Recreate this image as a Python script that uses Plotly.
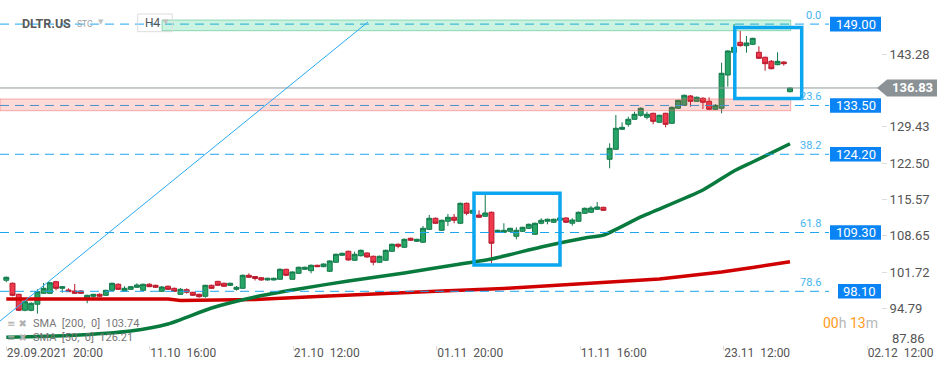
import plotly.graph_objects as go

# ---------------- data ----------------
tick_labels = ["29.09.2021  20:00", "11.10  16:00", "21.10  12:00", "01.11  20:00",
               "11.11  16:00", "23.11  12:00", "02.12  12:00"]
tick_bars = [0, 23.07, 46.13, 69.2, 92.27, 115.33, 138.4]

y_ticks = [94.79, 101.72, 108.65, 115.57, 122.50, 129.43, 143.28]
y_bottom_label = 87.86

opens = [100.20, 99.63, 97.53, 94.48, 94.48, 95.63, 97.72, 97.72, 99.93, 98.67,
         98.35, 98.16, 98.16, 96.77, 97.15, 97.53, 97.34, 98.29, 99.44, 98.16,
         98.48, 98.86, 98.29, 99.44, 99.24, 98.10, 99.06, 98.67, 97.53, 98.41,
         97.91, 97.53, 97.15, 99.24, 99.99, 99.63, 99.24, 98.48, 98.67, 101.15,
         100.92, 100.69, 100.26, 100.26, 100.39, 102.29, 100.39, 101.53, 102.29, 102.03,
         103.06, 102.79, 101.91, 103.63, 104.96, 105.72, 104.01, 104.88, 105.40, 104.77,
         103.63, 104.01, 105.72, 107.06, 106.49, 108.20, 107.63, 107.44, 109.91, 112.01,
         109.72, 111.44, 112.20, 111.06, 114.86, 112.96, 112.64, 112.39, 113.15, 109.34,
         109.34, 109.53, 108.58, 109.53, 110.10, 108.96, 111.06, 111.44, 111.25, 111.63,
         112.07, 111.06, 111.44, 112.96, 113.15, 113.72, 114.10, 123.25, 125.15, 128.96,
         129.91, 130.87, 131.63, 131.25, 132.01, 130.29, 132.01, 130.10, 132.96, 133.53,
         135.30, 134.29, 134.87, 134.29, 132.77, 132.96, 139.30, 143.63, 145.53, 144.89,
         145.15, 143.63, 142.68, 141.91, 141.27, 141.78, 136.12]
highs = [100.92, 99.78, 97.60, 96.30, 96.00, 98.50, 99.68, 99.90, 100.10, 99.10,
         98.67, 99.49, 98.30, 97.45, 97.60, 97.70, 98.40, 99.75, 99.60, 99.06,
         99.10, 99.63, 99.55, 99.63, 99.35, 99.11, 99.20, 98.80, 98.73, 98.67,
         98.00, 97.65, 99.35, 99.35, 100.10, 99.75, 99.75, 99.11, 101.30, 101.53,
         101.00, 100.80, 100.70, 100.70, 102.48, 102.40, 101.90, 102.80, 102.80, 103.20,
         103.15, 103.40, 104.00, 105.30, 105.45, 105.85, 105.65, 106.05, 105.50, 104.90,
         104.90, 106.05, 107.20, 107.20, 108.15, 108.30, 108.10, 110.54, 112.64, 112.15,
         111.75, 112.83, 112.83, 115.00, 115.00, 113.65, 113.53, 116.45, 113.30, 109.85,
         111.06, 110.20, 110.29, 110.40, 111.00, 111.20, 112.01, 111.95, 111.95, 112.20,
         112.20, 112.01, 113.30, 114.05, 114.35, 115.11, 114.20, 126.29, 131.68, 130.29,
         131.36, 132.31, 133.15, 132.31, 132.10, 131.75, 132.10, 133.30, 134.60, 135.55,
         135.49, 135.20, 135.06, 135.06, 133.78, 141.65, 144.00, 149.02, 147.69, 146.73,
         146.40, 144.77, 142.80, 142.16, 143.63, 141.90, 136.95]
lows = [99.82, 97.15, 94.35, 94.30, 94.30, 93.84, 97.60, 97.60, 98.29, 97.84,
        97.95, 97.60, 97.60, 95.82, 96.64, 96.95, 97.20, 98.20, 98.35, 98.05,
        98.35, 98.75, 98.20, 98.90, 98.75, 98.00, 98.35, 98.00, 97.40, 97.65,
        97.20, 96.88, 96.88, 98.55, 99.10, 98.95, 99.10, 98.22, 98.55, 100.65,
        100.16, 100.10, 100.15, 100.15, 100.30, 101.00, 100.30, 101.40, 102.20, 101.53,
        102.70, 102.70, 101.80, 103.50, 104.85, 103.95, 103.90, 104.75, 104.50, 103.06,
        103.50, 103.90, 105.60, 106.29, 106.35, 107.70, 107.50, 107.30, 109.80, 110.90,
        109.60, 110.54, 111.06, 110.90, 112.58, 112.85, 112.10, 112.30, 103.44, 109.20,
        109.20, 109.40, 108.01, 109.40, 110.00, 108.85, 110.86, 110.86, 111.10, 111.50,
        111.10, 110.60, 111.30, 112.85, 113.00, 113.60, 113.40, 121.53, 125.00, 128.85,
        129.46, 130.75, 131.36, 130.87, 129.91, 130.20, 129.34, 130.00, 132.85, 133.40,
        133.26, 134.20, 132.83, 132.65, 132.65, 132.01, 137.08, 143.50, 144.70, 143.55,
        145.00, 142.35, 140.12, 140.40, 141.15, 141.08, 136.00]
closes = [100.77, 97.34, 94.48, 96.12, 95.82, 98.03, 98.67, 99.74, 98.67, 98.98,
          98.03, 97.72, 97.72, 97.34, 97.53, 97.15, 98.29, 99.63, 98.48, 98.67,
          98.98, 99.30, 99.44, 98.98, 98.86, 98.92, 98.48, 98.10, 98.48, 97.91,
          97.34, 97.07, 99.24, 98.67, 99.24, 99.06, 99.63, 98.86, 101.15, 100.77,
          100.54, 100.26, 100.58, 100.58, 102.29, 101.15, 101.78, 102.68, 102.68, 103.06,
          102.79, 103.30, 103.88, 105.15, 105.34, 104.07, 105.15, 105.91, 104.64, 103.63,
          104.77, 105.91, 107.06, 106.68, 108.01, 107.82, 108.01, 110.10, 112.01, 111.06,
          111.63, 112.20, 111.63, 114.86, 112.96, 113.53, 112.20, 113.02, 107.25, 109.72,
          109.72, 110.10, 109.72, 110.29, 110.86, 111.06, 111.63, 111.82, 111.82, 112.07,
          111.25, 111.68, 113.15, 113.91, 113.97, 114.16, 113.53, 125.34, 129.15, 129.34,
          130.87, 131.82, 132.96, 131.82, 130.48, 131.63, 129.91, 133.15, 134.48, 135.44,
          134.29, 135.06, 134.10, 132.77, 133.53, 139.63, 143.88, 144.58, 144.89, 145.40,
          146.29, 142.49, 141.46, 140.50, 141.91, 141.46, 136.83]

sma200_bars = [0, 26, 28, 40, 50, 60, 70, 80, 90, 100, 105, 110, 115, 120, 126]
sma200_vals = [96.64, 96.64, 96.35, 96.54, 97.11, 97.68, 98.16, 98.64, 99.30, 100.07,
               100.45, 101.11, 101.78, 102.64, 103.74]
sma50_bars = [0, 10, 20, 26, 33, 40, 47, 55, 64, 72, 78, 86, 93, 96, 102, 112, 117, 120, 126]
sma50_vals = [89.34, 89.68, 90.54, 91.88, 94.92, 97.02, 98.54, 100.07, 101.59, 103.11,
              104.26, 106.54, 108.26, 108.80, 112.26, 117.40, 121.02, 122.73, 126.21]

fib_levels = [149.00, 133.50, 124.20, 109.30, 98.10]
fib_pcts = ["0.0", "23.6", "38.2", "61.8", "78.6"]
last_price = 136.83
sma200_last = 103.74
sma50_last = 126.21
symbol = "DLTR.US"
interval = "H4"
countdown = ("00", "13")

# ---------------- geometry helpers ----------------
W, H = 881, 345          # plot area in pixels
Y0, Y1 = 87.87, 153.59   # y range
X0, X1 = -1.013, 140.63  # x range


def px(x):
    return x / W


def py(y):
    return 1 - y / H


def ydata(y):
    return Y1 - (Y1 - Y0) * y / H


def xdata(x):
    return X0 + (X1 - X0) * x / W


fig = go.Figure()

fig.add_trace(go.Candlestick(
    x=list(range(len(opens))), open=opens, high=highs, low=lows, close=closes,
    increasing=dict(fillcolor="#27a567", line=dict(color="#13784a", width=1)),
    decreasing=dict(fillcolor="#f0394d", line=dict(color="#b8192c", width=1)),
    whiskerwidth=0, showlegend=False, hoverinfo="skip"))

fig.add_trace(go.Scatter(x=sma200_bars, y=sma200_vals, mode="lines",
                         line=dict(color="#d10000", width=3.5), showlegend=False,
                         hoverinfo="skip"))
fig.add_trace(go.Scatter(x=sma50_bars, y=sma50_vals, mode="lines",
                         line=dict(color="#087a3e", width=3.5, shape="spline",
                                   smoothing=0.6),
                         showlegend=False, hoverinfo="skip"))

shapes = []
annotations = []

# dashed fib / level lines
for lv in fib_levels:
    shapes.append(dict(type="line", xref="paper", yref="y", x0=0, x1=px(829),
                       y0=lv, y1=lv, layer="above",
                       line=dict(color="#1ea5ef", width=1, dash="9px,6px")))

# current price line
shapes.append(dict(type="line", xref="paper", yref="y", x0=0, x1=1, y0=last_price,
                   y1=last_price, layer="above", line=dict(color="#8e979c", width=1)))

# zones
shapes.append(dict(type="rect", xref="x", yref="y", x0=xdata(162), x1=xdata(790.7),
                   y0=ydata(30.7), y1=ydata(20), layer="above",
                   fillcolor="rgba(20,200,120,0.22)",
                   line=dict(color="rgba(40,180,110,0.45)", width=1)))
shapes.append(dict(type="rect", xref="x", yref="y", x0=xdata(0), x1=xdata(790.7),
                   y0=ydata(110.7), y1=ydata(99), layer="above",
                   fillcolor="rgba(244,67,54,0.2)",
                   line=dict(color="rgba(240,90,90,0.45)", width=1)))

# trend line
shapes.append(dict(type="line", xref="x", yref="y", x0=xdata(0), y0=ydata(321),
                   x1=xdata(368), y1=ydata(22), layer="above",
                   line=dict(color="#2aa9f2", width=1)))

# highlight boxes
shapes.append(dict(type="rect", xref="x", yref="y", x0=xdata(474), x1=xdata(560),
                   y0=ydata(265), y1=ydata(193.3), layer="above",
                   line=dict(color="#0aa6f0", width=3.5)))
shapes.append(dict(type="rect", xref="x", yref="y", x0=xdata(734.8), x1=xdata(801.7),
                   y0=ydata(98.4), y1=ydata(27.5), layer="above",
                   line=dict(color="#0aa6f0", width=3.5)))

# level price boxes
box_left = [830, 830, 830, 830, 838]
for lv, bl in zip(fib_levels, box_left):
    yc = (Y1 - lv) / (Y1 - Y0) * H
    shapes.append(dict(type="rect", xref="paper", yref="paper", x0=px(bl), x1=px(881),
                       y0=py(yc + 7.3), y1=py(yc - 7.3), layer="above",
                       fillcolor="#0a84f5", line=dict(width=0)))
    annotations.append(dict(xref="paper", yref="paper", x=px((bl + 881) / 2),
                            y=py(yc), text=f"{lv:.2f}", showarrow=False,
                            font=dict(family="Roboto", size=13, color="white"),
                            xanchor="center", yanchor="middle"))

# fib percentage labels
for lv, pc in zip(fib_levels, fib_pcts):
    yc = (Y1 - lv) / (Y1 - Y0) * H
    annotations.append(dict(xref="paper", yref="paper", x=px(823), y=py(yc - 9),
                            text=pc, showarrow=False, xanchor="right",
                            yanchor="middle",
                            font=dict(family="Roboto", size=11, color="#45b4f0")))

# current price tag
yc = (Y1 - last_price) / (Y1 - Y0) * H
tag_path = (f"M {px(877)},{py(yc)} L {px(887)},{py(yc - 8.5)} L {px(937)},{py(yc - 8.5)} "
            f"L {px(937)},{py(yc + 8.5)} L {px(887)},{py(yc + 8.5)} Z")
shapes.append(dict(type="path", xref="paper", yref="paper", path=tag_path,
                   fillcolor="#8a9296", line=dict(width=0), layer="above"))
annotations.append(dict(xref="paper", yref="paper", x=px(912), y=py(yc),
                        text=f"<b>{last_price:.2f}</b>", showarrow=False,
                        xanchor="center", yanchor="middle",
                        font=dict(family="Roboto", size=13, color="white")))

# bottom y label
annotations.append(dict(xref="paper", yref="paper", x=px(890), y=py(338),
                        text=f"{y_bottom_label:.2f}", showarrow=False, xanchor="left",
                        yanchor="middle",
                        font=dict(family="Roboto", size=13, color="#555")))

# header
annotations.append(dict(xref="paper", yref="paper", x=px(20), y=py(23.5),
                        text=f"<b>{symbol}</b>", showarrow=False, xanchor="left",
                        yanchor="middle", font=dict(family="Roboto", size=12.5,
                                                    color="#5a5a5a")))
annotations.append(dict(xref="paper", yref="paper", x=px(75), y=py(24.5),
                        text="STC", showarrow=False, xanchor="left", yanchor="middle",
                        font=dict(family="Roboto", size=8.5, color="#9aa0a6")))
annotations.append(dict(xref="paper", yref="paper", x=px(101), y=py(22),
                        text="▼", showarrow=False, xanchor="center", yanchor="middle",
                        font=dict(family="DejaVu Sans", size=7, color="#c0c0c0")))
shapes.append(dict(type="rect", xref="paper", yref="paper", x0=px(137.7), x1=px(172.3),
                   y0=py(31.7), y1=py(14), layer="above",
                   line=dict(color="#dcdcdc", width=1)))
annotations.append(dict(xref="paper", yref="paper", x=px(143), y=py(23),
                        text=interval, showarrow=False, xanchor="left", yanchor="middle",
                        font=dict(family="Roboto", size=12, color="#555")))
annotations.append(dict(xref="paper", yref="paper", x=px(165.5), y=py(22),
                        text="▼", showarrow=False, xanchor="center", yanchor="middle",
                        font=dict(family="DejaVu Sans", size=7, color="#c0c0c0")))

# indicator legend
for yy, txt in [(323, f"SMA  [200,  0]  {sma200_last:.2f}"),
                (337, f"SMA  [50,  0]  {sma50_last:.2f}")]:
    annotations.append(dict(xref="paper", yref="paper", x=px(5), y=py(yy),
                            text="≡ ✖", showarrow=False, xanchor="left",
                            yanchor="middle",
                            font=dict(family="DejaVu Sans", size=10, color="#b0b0b0")))
    annotations.append(dict(xref="paper", yref="paper", x=px(31), y=py(yy),
                            text=txt, showarrow=False, xanchor="left", yanchor="middle",
                            font=dict(family="Roboto", size=11, color="#777")))

# countdown
annotations.append(dict(xref="paper", yref="paper", x=px(880), y=py(323),
                        text=(f"<span style='color:#ff9a1a'>{countdown[0]}</span>"
                              f"<span style='color:#b8b8b8'>h </span>"
                              f"<span style='color:#ff9a1a'>{countdown[1]}</span>"
                              f"<span style='color:#b8b8b8'>m</span>"),
                        showarrow=False, xanchor="right", yanchor="middle",
                        font=dict(family="Roboto", size=14)))

fig.update_layout(
    width=950, height=370,
    margin=dict(l=0, r=950 - W, t=0, b=370 - H),
    paper_bgcolor="white", plot_bgcolor="white",
    shapes=shapes, annotations=annotations,
    boxgap=0.1, boxgroupgap=0.12,
    xaxis=dict(range=[X0, X1], tickvals=tick_bars, ticktext=tick_labels,
               showgrid=False, zeroline=False, showline=False,
               ticks="outside", ticklen=4, tickcolor="#dddddd",
               ticklabelposition="outside right", ticklabelstandoff=-3,
               tickfont=dict(family="Roboto", size=12, color="#555"),
               rangeslider=dict(visible=False), fixedrange=True),
    yaxis=dict(range=[Y0, Y1], side="right", tickvals=y_ticks,
               ticktext=[f"{v:.2f}" for v in y_ticks],
               showgrid=False, zeroline=False, showline=False,
               ticks="outside", ticklen=5, tickcolor="#dddddd",
               tickfont=dict(family="Roboto", size=13, color="#555"),
               fixedrange=True),
    font=dict(family="Roboto"),
)

fig.write_html("out.html", config={"displayModeBar": False},
               post_script="document.body.style.margin='0px';"
                           "document.body.style.overflow='hidden';")
